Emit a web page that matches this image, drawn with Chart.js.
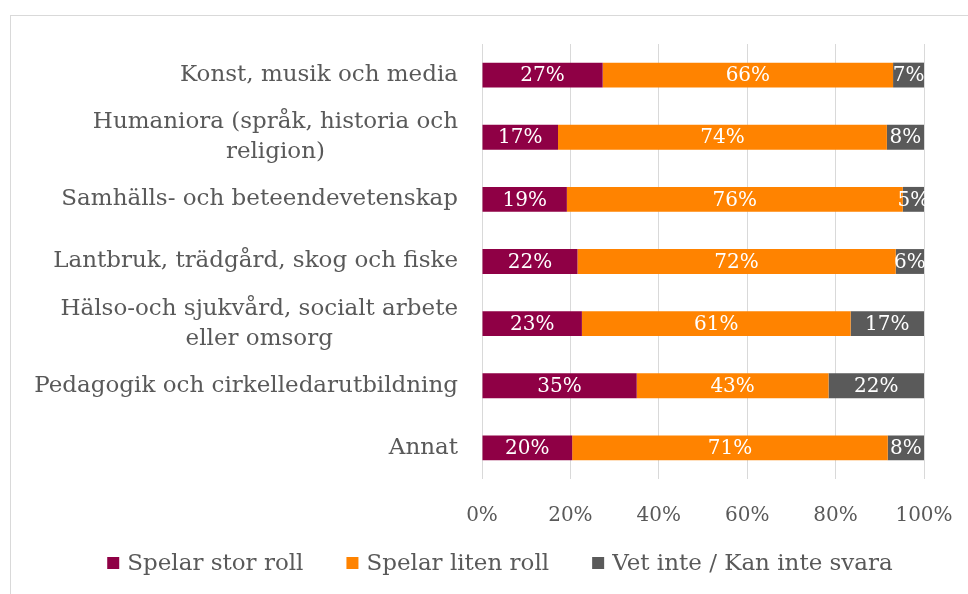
<!DOCTYPE html>
<html>
<head>
<meta charset="utf-8">
<script src="https://cdn.jsdelivr.net/npm/chart.js@4/dist/chart.umd.min.js"></script>
<style>
  body { margin: 0; background: #fff; }
  #wrap { position: relative; width: 968px; height: 594px; overflow: hidden; }
  #frame { position: absolute; left: 10px; top: 15px; width: 980px; height: 600px; border: 1px solid #d9d9d9; }
  #c { position: absolute; left: 0; top: 0; }
</style>
</head>
<body>
<div id="wrap">
  <div id="frame"></div>
  <canvas id="c" width="968" height="594"></canvas>
</div>
<script>
const categories = [
    ["Konst, musik och media"],
    ["Humaniora (språk, historia och", "religion)"],
    ["Samhälls- och beteendevetenskap"],
    ["Lantbruk, trädgård, skog och fiske"],
    ["Hälso-och sjukvård, socialt arbete", "eller omsorg"],
    ["Pedagogik och cirkelledarutbildning"],
    ["Annat"]
];

const storRoll = [27.3, 17.2, 19.2, 21.6, 22.6, 35.0, 20.4];
const litenRoll = [65.7, 74.4, 76.0, 72.0, 60.8, 43.4, 71.4];
const vetInte = [7.0, 8.4, 4.8, 6.4, 16.6, 21.6, 8.2];

const xTicks = [0, 20, 40, 60, 80, 100];

const serif = "'DejaVu Serif', serif";
const textColor = "#595959";

// labels inside the bars
const barLabels = {
    id: "barLabels",
    afterDatasetsDraw(chart) {
        const ctx = chart.ctx;
        ctx.save();
        ctx.font = "20px " + serif;
        ctx.fillStyle = "#ffffff";
        ctx.textAlign = "center";
        ctx.textBaseline = "middle";
        chart.data.datasets.forEach((ds, di) => {
            const meta = chart.getDatasetMeta(di);
            meta.data.forEach((bar, i) => {
                const cx = (bar.x + bar.base) / 2;
                ctx.fillText(Math.round(ds.data[i]) + "%", cx, bar.y + 1);
            });
        });
        ctx.restore();
    }
};

// category labels, multi-line centred on their widest line
const categoryLabels = {
    id: "categoryLabels",
    afterDraw(chart) {
        const ctx = chart.ctx;
        const yScale = chart.scales.y;
        const right = chart.chartArea.left - 24;
        const lineH = 30;
        ctx.save();
        ctx.font = "23px " + serif;
        ctx.fillStyle = textColor;
        ctx.textAlign = "center";
        ctx.textBaseline = "middle";
        categories.forEach((lines, i) => {
            const y = yScale.getPixelForValue(i);
            const maxW = Math.max(...lines.map(l => ctx.measureText(l).width));
            const cx = right - maxW / 2;
            const y0 = y - (lines.length - 1) * lineH / 2;
            lines.forEach((l, j) => ctx.fillText(l, cx, y0 + j * lineH));
        });
        ctx.restore();
    }
};

// legend row under the axis
const bottomLegend = {
    id: "bottomLegend",
    afterDraw(chart) {
        const ctx = chart.ctx;
        const box = 12, gap = 8, spacing = 43;
        const y = 563;
        ctx.save();
        ctx.font = "23px " + serif;
        ctx.textBaseline = "middle";
        ctx.textAlign = "left";
        const items = chart.data.datasets.map(ds => ({
            text: ds.label,
            color: ds.backgroundColor,
            w: box + gap + ctx.measureText(ds.label).width
        }));
        const total = items.reduce((s, it) => s + it.w, 0) + spacing * (items.length - 1);
        let x = 500 - total / 2;
        items.forEach(it => {
            ctx.fillStyle = it.color;
            ctx.fillRect(x, y - box / 2, box, box);
            ctx.fillStyle = textColor;
            ctx.fillText(it.text, x + box + gap, y + 1);
            x += it.w + spacing;
        });
        ctx.restore();
    }
};

new Chart(document.getElementById("c"), {
    type: "bar",
    data: {
        labels: categories.map(c => c.join(" ")),
        datasets: [
            { label: "Spelar stor roll", data: storRoll, backgroundColor: "#8f0045" },
            { label: "Spelar liten roll", data: litenRoll, backgroundColor: "#ff8300" },
            { label: "Vet inte / Kan inte svara", data: vetInte, backgroundColor: "#5a5a5a" }
        ]
    },
    options: {
        indexAxis: "y",
        responsive: false,
        animation: false,
        barPercentage: 0.4,
        categoryPercentage: 1,
        layout: { padding: { top: 44, right: 44, bottom: 41, left: 0 } },
        scales: {
            x: {
                stacked: true,
                min: 0,
                max: 100,
                afterBuildTicks(scale) {
                    scale.ticks = xTicks.map(v => ({ value: v }));
                },
                afterFit(scale) {
                    scale.paddingLeft = 0;
                    scale.paddingRight = 0;
                },
                grid: { color: "#d9d9d9", lineWidth: 1, drawTicks: false },
                border: { display: false },
                ticks: {
                    padding: 25,
                    color: textColor,
                    font: { family: serif, size: 20 },
                    callback: v => v + "%"
                }
            },
            y: {
                stacked: true,
                grid: { display: false },
                border: { display: false },
                ticks: { display: false },
                afterFit(scale) { scale.width = 482; }
            }
        },
        plugins: {
            legend: { display: false },
            tooltip: { enabled: false }
        }
    },
    plugins: [barLabels, categoryLabels, bottomLegend]
});
</script>
</body>
</html>
